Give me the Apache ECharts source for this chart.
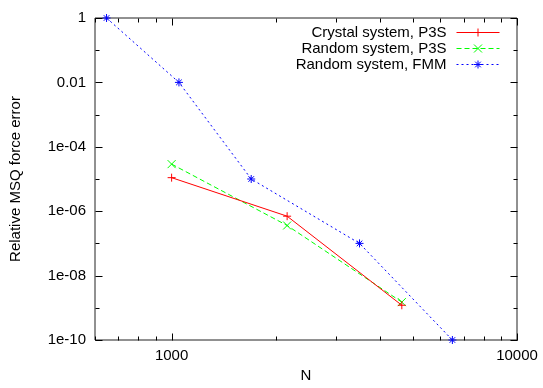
<!DOCTYPE html>
<html><head><meta charset="utf-8">
<script src="https://cdn.jsdelivr.net/npm/echarts@6/dist/echarts.min.js"></script>
<style>html,body{margin:0;padding:0;background:#fff}#c{width:543px;height:388px}</style>
</head><body><div id="c"></div>
<script>
const crystalN = [1000, 2160, 4640];
const crystalErr = [1.1e-5, 7.0e-7, 1.2e-9];
const randomN = [1000, 2160, 4640];
const randomErr = [2.9e-5, 3.6e-7, 1.5e-9];
const fmmN = [648, 1050, 1700, 3500, 6500];
const fmmErr = [1, 1e-2, 1e-5, 1e-7, 1e-10];
const seriesNames = ['Crystal system, P3S', 'Random system, P3S', 'Random system, FMM'];
const xMajorTicks = [1000, 10000];
const xMinorTicks = [600, 700, 800, 900, 2000, 3000, 4000, 5000, 6000, 7000, 8000, 9000];
const yMajorTicks = [1, 1e-2, 1e-4, 1e-6, 1e-8, 1e-10];
const yMinorTicks = [1e-1, 1e-3, 1e-5, 1e-7, 1e-9];
const xMin = 600, xMax = 10000, yMin = 1e-10, yMax = 1;

const FONT = "'Liberation Sans', Arial, sans-serif";
const zip = (a, b) => a.map((v, i) => [v, b[i]]);

const tickData = [];
xMajorTicks.forEach(v => tickData.push([v, yMax, 7, 0]));
xMinorTicks.forEach(v => tickData.push([v, yMax, 4, 0]));
yMajorTicks.forEach(v => tickData.push([xMin, v, 7, 1]));
yMinorTicks.forEach(v => tickData.push([xMin, v, 4, 1]));

function ln(x1, y1, x2, y2) {
  return {type: 'line', shape: {x1, y1, x2, y2}, style: {stroke: '#000', lineWidth: 1}};
}
function yFmt(v) {
  const e = Math.round(Math.log10(v));
  if (e >= -2) return String(Number(Math.pow(10, e).toFixed(2)));
  const a = Math.abs(e);
  return '1e-' + (a < 10 ? '0' + a : a);
}

const chart = echarts.init(document.getElementById('c'), null, {renderer: 'canvas'});
chart.setOption({
  animation: false,
  backgroundColor: '#fff',
  textStyle: {fontFamily: FONT},
  grid: {left: 95, right: 26, top: 18, bottom: 46, show: true, borderColor: '#222', borderWidth: 1, backgroundColor: 'transparent'},
  legend: {
    orient: 'vertical', align: 'right', right: 38, top: 20,
    itemWidth: 43, itemHeight: 10, itemGap: 1,
    data: seriesNames,
    lineStyle: {width: 1},
    itemStyle: {borderWidth: 1},
    textStyle: {fontFamily: FONT, fontSize: 15, color: '#000', padding: [0, 5, 0, 0]}
  },
  xAxis: {
    type: 'log', logBase: 10, min: xMin, max: xMax,
    name: 'N', nameLocation: 'middle', nameGap: 28,
    nameTextStyle: {fontFamily: FONT, fontSize: 15, color: '#000'},
    axisLine: {show: false}, axisTick: {show: false}, splitLine: {show: false}, minorTick: {show: false},
    axisLabel: {fontFamily: FONT, fontSize: 15, color: '#000', margin: 8,
      customValues: xMajorTicks, formatter: v => String(Math.round(v))}
  },
  yAxis: {
    type: 'log', logBase: 10, min: yMin, max: yMax,
    name: 'Relative MSQ force error', nameLocation: 'middle', nameGap: 72,
    nameTextStyle: {fontFamily: FONT, fontSize: 15, color: '#000'},
    axisLine: {show: false}, axisTick: {show: false}, splitLine: {show: false}, minorTick: {show: false},
    axisLabel: {fontFamily: FONT, fontSize: 15, color: '#000', margin: 9,
      customValues: yMajorTicks, formatter: yFmt}
  },
  series: [
    {
      name: seriesNames[0], type: 'line', data: zip(crystalN, crystalErr), clip: false,
      symbol: 'path://M0,5L10,5M5,0L5,10', symbolSize: 8,
      lineStyle: {color: '#ff0000', width: 1, type: 'solid'},
      itemStyle: {color: '#ff0000', borderColor: '#ff0000', borderWidth: 1},
      z: 3
    },
    {
      name: seriesNames[1], type: 'line', data: zip(randomN, randomErr), clip: false,
      symbol: 'path://M0,0L10,10M0,10L10,0', symbolSize: 8,
      lineStyle: {color: '#00ff00', width: 1, type: [5, 3]},
      itemStyle: {color: '#00ff00', borderColor: '#00ff00', borderWidth: 1},
      z: 2
    },
    {
      name: seriesNames[2], type: 'line', data: zip(fmmN, fmmErr), clip: false,
      symbol: 'path://M0,5L10,5M5,0L5,10M1.5,1.5L8.5,8.5M1.5,8.5L8.5,1.5', symbolSize: 8,
      lineStyle: {color: '#0000ff', width: 1, type: [2, 3]},
      itemStyle: {color: '#0000ff', borderColor: '#0000ff', borderWidth: 1},
      z: 2
    },
    {
      type: 'custom', data: tickData, clip: false, silent: true, z: 5,
      encode: {x: 0, y: 1},
      renderItem: function (params, api) {
        const cs = params.coordSys;
        const len = api.value(2), kind = api.value(3);
        if (kind === 0) {
          const px = Math.round(api.coord([api.value(0), yMax])[0]) + 0.5;
          const b = Math.round(cs.y + cs.height) + 0.5, t = Math.round(cs.y) + 0.5;
          return {type: 'group', children: [ln(px, b, px, b - len), ln(px, t, px, t + len)]};
        } else {
          const py = Math.round(api.coord([xMin, api.value(1)])[1]) + 0.5;
          const l = Math.round(cs.x) + 0.5, r = Math.round(cs.x + cs.width) + 0.5;
          return {type: 'group', children: [ln(l, py, l + len, py), ln(r, py, r - len, py)]};
        }
      }
    }
  ]
});
</script></body></html>
